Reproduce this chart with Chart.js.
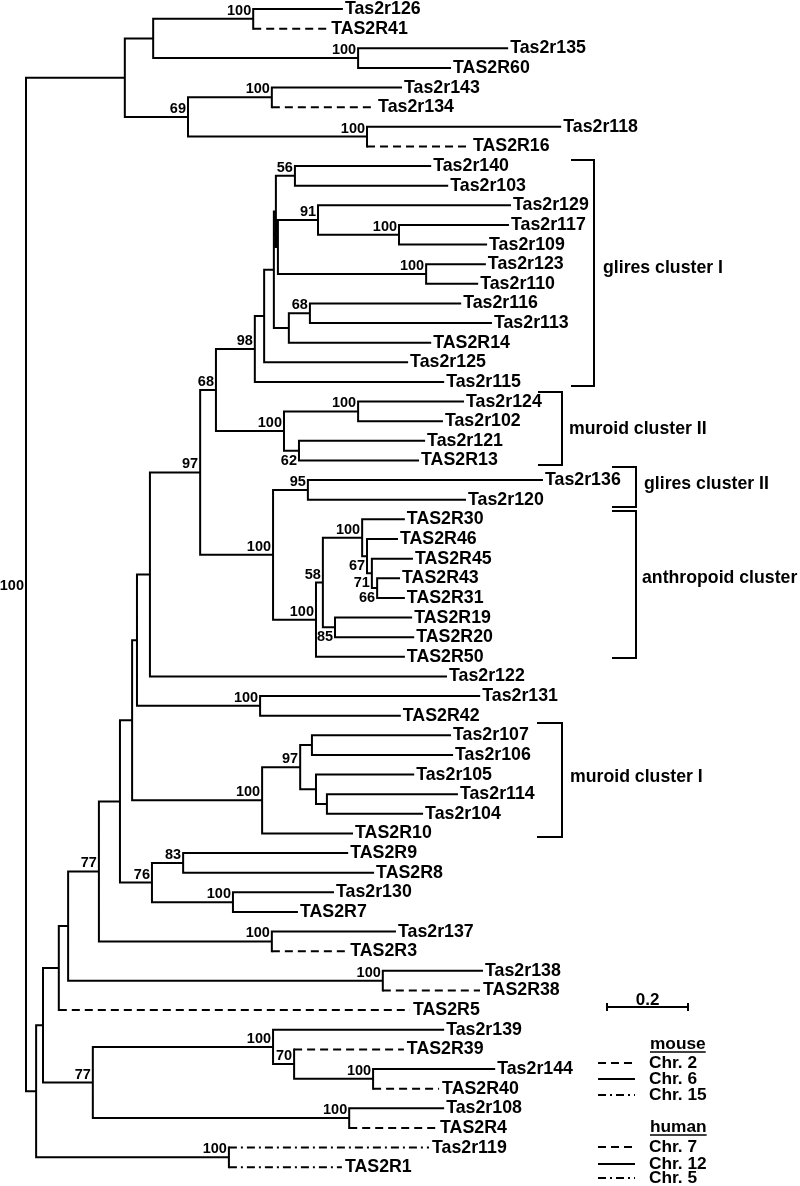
<!DOCTYPE html>
<html>
<head>
<meta charset="utf-8">
<script src="https://cdn.jsdelivr.net/npm/chart.js@4.4.1/dist/chart.umd.min.js"></script>
<style>
  html, body { margin: 0; padding: 0; background: #fff; }
  #wrap { width: 800px; height: 1186px; position: relative; }
</style>
</head>
<body>
<div id="wrap"><canvas id="tree"></canvas></div>
<script>
// leaves of the tree, top to bottom
const leafNames = [
  "Tas2r126", "TAS2R41", "Tas2r135", "TAS2R60", "Tas2r143", "Tas2r134", "Tas2r118", "TAS2R16",
  "Tas2r140", "Tas2r103", "Tas2r129", "Tas2r117", "Tas2r109", "Tas2r123", "Tas2r110", "Tas2r116",
  "Tas2r113", "TAS2R14", "Tas2r125", "Tas2r115", "Tas2r124", "Tas2r102", "Tas2r121", "TAS2R13",
  "Tas2r136", "Tas2r120", "TAS2R30", "TAS2R46", "TAS2R45", "TAS2R43", "TAS2R31", "TAS2R19",
  "TAS2R20", "TAS2R50", "Tas2r122", "Tas2r131", "TAS2R42", "Tas2r107", "Tas2r106", "Tas2r105",
  "Tas2r114", "Tas2r104", "TAS2R10", "TAS2R9", "TAS2R8", "Tas2r130", "TAS2R7", "Tas2r137",
  "TAS2R3", "Tas2r138", "TAS2R38", "TAS2R5", "Tas2r139", "TAS2R39", "Tas2r144", "TAS2R40",
  "Tas2r108", "TAS2R4", "Tas2r119", "TAS2R1"
];

// distance of each leaf from the root
const leafDepth = [
  0.780, 0.746, 1.188, 1.047, 0.926, 0.862, 1.319, 1.096,
  0.998, 1.040, 1.195, 1.190, 1.136, 1.133, 1.114, 1.072,
  1.148, 0.998, 0.941, 1.030, 1.079, 1.027, 0.983, 0.968,
  1.274, 1.084, 0.933, 0.916, 0.953, 0.921, 0.933, 0.951,
  0.956, 0.933, 1.037, 1.119, 0.923, 1.047, 1.052, 0.956,
  1.064, 0.978, 0.805, 0.793, 0.857, 0.758, 0.669, 0.911,
  0.793, 1.126, 1.121, 0.948, 1.030, 0.933, 1.156, 1.020,
  1.030, 1.015, 0.995, 0.780
];

// chromosome of each gene (mouse 2/6/15, human 7/12/5)
const leafChr = [
  6, 7, 6, 12, 6, 2, 6, 7,
  6, 6, 6, 6, 6, 6, 6, 6,
  6, 12, 6, 6, 6, 6, 6, 12,
  6, 6, 12, 12, 12, 12, 12, 12,
  12, 12, 6, 6, 12, 6, 6, 6,
  6, 6, 12, 12, 12, 6, 12, 6,
  7, 6, 7, 7, 6, 7, 6, 7,
  6, 7, 15, 5
];

// internal nodes: [first leaf, last leaf, depth, bootstrap]
const clades = [
  [0, 59, 0.000, 100],
  [0, 7, 0.244, null], [0, 3, 0.314, null], [0, 1, 0.561, 100], [2, 3, 0.820, 100],
  [4, 7, 0.400, 69], [4, 5, 0.607, 100], [6, 7, 0.842, 100],
  [8, 59, 0.025, null], [8, 57, 0.042, null], [58, 59, 0.501, 100],
  [8, 51, 0.081, null], [52, 57, 0.165, 77], [8, 50, 0.104, null], [8, 48, 0.180, 77],
  [49, 50, 0.881, 100], [8, 46, 0.232, null], [47, 48, 0.607, 100], [8, 42, 0.262, null],
  [43, 46, 0.311, 76], [43, 44, 0.388, 83], [45, 46, 0.511, 100],
  [8, 36, 0.274, null], [37, 42, 0.583, 100], [37, 41, 0.677, 97], [37, 38, 0.706, null],
  [39, 41, 0.716, null], [40, 41, 0.743, null],
  [8, 34, 0.306, null], [35, 36, 0.578, 100], [8, 33, 0.430, 97], [8, 23, 0.469, 68],
  [8, 19, 0.565, 98], [8, 18, 0.588, null], [8, 17, 0.612, null], [8, 14, 0.617, null],
  [8, 9, 0.664, 56], [10, 14, 0.622, null], [10, 12, 0.721, 91], [11, 12, 0.921, 100],
  [13, 14, 0.988, 100], [15, 17, 0.649, null], [15, 16, 0.701, 68],
  [20, 23, 0.637, 100], [20, 21, 0.820, 100], [22, 23, 0.674, 62],
  [24, 33, 0.610, 100], [24, 25, 0.696, 95], [26, 33, 0.716, 100], [26, 32, 0.733, 58],
  [26, 30, 0.830, 100], [27, 30, 0.842, 67], [28, 30, 0.854, 71], [29, 30, 0.867, 66],
  [31, 32, 0.763, 85],
  [52, 55, 0.610, 100], [53, 55, 0.662, 70], [54, 55, 0.857, 100], [56, 57, 0.798, 100]
];

// clusters marked with brackets
const clusterNames = ["glires cluster I", "muroid cluster II", "glires cluster II", "anthropoid cluster", "muroid cluster I"];
const clusterFirst = [8, 20, 24, 26, 37];
const clusterLast = [19, 23, 25, 33, 42];

const scaleBarLength = 0.2;

// ---- layout / style (pixels) ----
const FONT = '"Liberation Sans", Arial, Helvetica, sans-serif';
const belowLabels = new Set(["22-23", "31-32", "27-30", "28-30", "29-30"]);
const bracketLayout = [
  // open end x, spine x, label x, pad top, pad bottom, label dy
  [571, 594, 603, 0.31, 0.21, 0],
  [538, 562, 569, 0.49, 0.23, 6],
  [612, 636, 644, 0.67, 0.37, 2],
  [612, 636, 642, 0.43, 0.06, -1],
  [537, 562, 570, 0.63, 0.18, 2]
];
const DASH = [8, 5];
const DASHDOT = [8, 4, 2, 4];
function chrStyle(c) {
  if (c === 2 || c === 7) return "dash";
  if (c === 15 || c === 5) return "dashdot";
  return "solid";
}

// ---- build tree ----
const nodes = clades.map(([first, last, depth, support]) => ({ first, last, depth, support }));
function make(first, last) {
  const self = nodes.find(n => n.first === first && n.last === last);
  const kids = [];
  let i = first;
  while (i <= last) {
    let best = null;
    for (const n of nodes) {
      if (n === self) continue;
      if (n.first === i && n.last <= last && (!best || n.last > best.last)) best = n;
    }
    if (best) { kids.push(make(best.first, best.last)); i = best.last + 1; }
    else { kids.push({ leaf: i, depth: leafDepth[i], y: i }); i++; }
  }
  self.kids = kids;
  self.y = (kids[0].y + kids[kids.length - 1].y) / 2;
  return self;
}
const root = make(0, leafNames.length - 1);

const solid = [], dashed = [], dashDot = [];
function seg(arr, x1, y1, x2, y2) {
  arr.push({ x: x1, y: y1 }, { x: x2, y: y2 }, { x: x2, y: null });
}
function walk(node) {
  if (!node.kids) return;
  seg(solid, node.depth, node.kids[0].y, node.depth, node.kids[node.kids.length - 1].y);
  for (const k of node.kids) {
    let arr = solid;
    if (k.leaf !== undefined) {
      const s = chrStyle(leafChr[k.leaf]);
      arr = s === "dash" ? dashed : s === "dashdot" ? dashDot : solid;
    }
    seg(arr, node.depth, k.y, k.depth, k.y);
    walk(k);
  }
}
walk(root);

const textPlugin = {
  id: "treeText",
  afterDatasetsDraw(chart) {
    const { ctx, scales: { x, y } } = chart;
    ctx.save();
    ctx.fillStyle = "#000";
    ctx.strokeStyle = "#000";

    // leaf names
    ctx.font = "bold 17.8px " + FONT;
    ctx.textAlign = "left";
    ctx.textBaseline = "alphabetic";
    leafNames.forEach((name, i) => {
      ctx.fillText(name, x.getPixelForValue(leafDepth[i]) + 3, y.getPixelForValue(i) + 5);
    });

    // bootstrap values
    ctx.font = "bold 14.5px " + FONT;
    ctx.textAlign = "right";
    nodes.forEach(n => {
      if (n.support == null) return;
      const px = x.getPixelForValue(n.depth);
      const py = y.getPixelForValue(n.y);
      if (n === root) {
        ctx.fillText(String(n.support), px - 2, py + 5);
      } else if (belowLabels.has(n.first + "-" + n.last)) {
        ctx.fillText(String(n.support), px - 2, py + 14);
      } else {
        ctx.fillText(String(n.support), px - 2, py - 4);
      }
    });

    // cluster brackets
    ctx.lineWidth = 2;
    ctx.font = "bold 17.7px " + FONT;
    ctx.textAlign = "left";
    clusterNames.forEach((name, c) => {
      const [x0, x1, lx, padT, padB, dy] = bracketLayout[c];
      const top = y.getPixelForValue(clusterFirst[c] - padT);
      const bot = y.getPixelForValue(clusterLast[c] + padB);
      ctx.beginPath();
      ctx.moveTo(x0, top);
      ctx.lineTo(x1, top);
      ctx.lineTo(x1, bot);
      ctx.lineTo(x0, bot);
      ctx.stroke();
      ctx.fillText(name, lx, (top + bot) / 2 + dy);
    });

    // scale bar
    const sb0 = x.getPixelForValue(1.4346);
    const sb1 = x.getPixelForValue(1.4346 + scaleBarLength);
    ctx.beginPath();
    ctx.moveTo(sb0, 1007); ctx.lineTo(sb1, 1007);
    ctx.moveTo(sb0, 1003); ctx.lineTo(sb0, 1011);
    ctx.moveTo(sb1, 1003); ctx.lineTo(sb1, 1011);
    ctx.stroke();
    ctx.font = "bold 17px " + FONT;
    ctx.textAlign = "center";
    ctx.fillText(String(scaleBarLength), (sb0 + sb1) / 2, 1005);

    // legend
    ctx.font = "bold 17.3px " + FONT;
    ctx.textAlign = "left";
    const heads = [["mouse", 1049], ["human", 1132]];
    heads.forEach(([t, by]) => {
      ctx.fillText(t, 650, by);
      const w = ctx.measureText(t).width;
      ctx.lineWidth = 1.5;
      ctx.beginPath(); ctx.moveTo(650, by + 3); ctx.lineTo(650 + w, by + 3); ctx.stroke();
    });
    const rows = [
      ["Chr. 2", 1068, DASH], ["Chr. 6", 1084, []], ["Chr. 15", 1100, DASHDOT],
      ["Chr. 7", 1152, DASH], ["Chr. 12", 1169, []], ["Chr. 5", 1183, DASHDOT]
    ];
    ctx.lineWidth = 2;
    rows.forEach(([t, by, dash]) => {
      ctx.fillText(t, 649, by);
      ctx.setLineDash(dash);
      ctx.beginPath(); ctx.moveTo(598, by - 5); ctx.lineTo(635, by - 5); ctx.stroke();
      ctx.setLineDash([]);
    });
    ctx.restore();
  }
};

const lineDs = (data, dash, cap) => ({
  data, showLine: true, pointRadius: 0, borderColor: "#000", borderWidth: 2,
  borderDash: dash, borderCapStyle: cap, spanGaps: false, tension: 0
});

new Chart(document.getElementById("tree"), {
  type: "scatter",
  data: {
    datasets: [
      lineDs(solid, [], "square"),
      lineDs(dashed, DASH, "butt"),
      lineDs(dashDot, DASHDOT, "butt")
    ]
  },
  options: {
    responsive: true,
    maintainAspectRatio: false,
    animation: false,
    layout: { padding: 0 },
    plugins: { legend: { display: false }, tooltip: { enabled: false } },
    scales: {
      x: { type: "linear", display: false, min: -0.0642, max: 1.9111 },
      y: { type: "linear", display: false, reverse: true, min: -0.4585, max: 59.96 }
    }
  },
  plugins: [textPlugin]
});
</script>
</body>
</html>
